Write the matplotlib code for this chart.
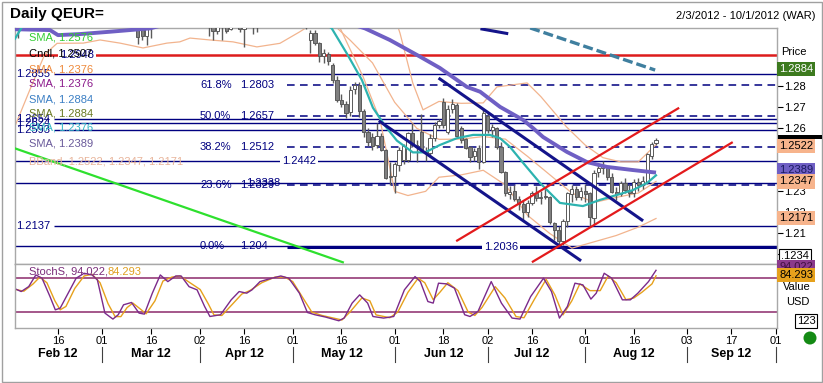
import matplotlib
matplotlib.use("Agg")
import matplotlib.pyplot as plt
import matplotlib.transforms as mtransforms
from matplotlib.patches import Rectangle, Circle
import pandas as pd

plt.rcParams['font.family'] = ['Liberation Sans', 'DejaVu Sans']

# ---------------- data ----------------
trade_dates = pd.bdate_range('2012-02-03', '2012-08-23')
axis_dates = pd.bdate_range('2012-02-03', '2012-10-01')

opens = [1.3135,1.3160,1.3110,1.3240,1.3270,1.3280,1.3200,1.3210,1.3140,1.3100,
         1.3120,1.3150,1.3230,1.3240,1.3230,1.3380,1.3450,1.3410,1.3450,1.3320,
         1.3190,1.3200,1.3200,1.3130,1.3130,1.3250,1.3120,1.3130,1.3080,1.3040,
         1.3090,1.3170,1.3230,1.3220,1.3250,1.3190,1.3270,1.3340,1.3370,1.3310,
         1.3310,1.3340,1.3320,1.3230,1.3090,1.3060,1.3095,1.3100,1.3070,1.3130,
         1.3160,1.3070,1.3090,1.3150,1.3110,1.3140,1.3210,1.3150,1.3170,1.3240,
         1.3230,1.3240,1.3240,1.3230,1.3160,1.3150,1.3020,1.3050,1.3005,1.2942,
         1.2950,1.2900,1.2830,1.2735,1.2715,1.2675,1.2785,1.2805,1.2680,1.2580,
         1.2560,1.2520,1.2565,1.2495,1.2370,1.2375,1.2425,1.2450,1.2450,1.2575,
         1.2520,1.2580,1.2490,1.2480,1.2555,1.2615,1.2725,1.2580,1.2690,1.2710,
         1.2600,1.2550,1.2510,1.2470,1.2505,1.2440,1.2660,1.2590,1.2600,1.2510,
         1.2390,1.2285,1.2300,1.2265,1.2240,1.2200,1.2245,1.2290,1.2270,1.2280,
         1.2275,1.2150,1.2115,1.2065,1.2160,1.2285,1.2310,1.2275,1.2300,1.2290,
         1.2175,1.2390,1.2410,1.2410,1.2370,1.2295,1.2285,1.2340,1.2305,1.2290,
         1.2345,1.2330,1.2345,1.2470,1.2528]
highs = [1.3235,1.3170,1.3250,1.3295,1.3320,1.3290,1.3260,1.3230,1.3200,1.3150,
         1.3200,1.3290,1.3290,1.3260,1.3390,1.3460,1.3460,1.3480,1.3490,1.3350,
         1.3260,1.3250,1.3210,1.3170,1.3280,1.3290,1.3170,1.3160,1.3100,1.3120,
         1.3180,1.3250,1.3250,1.3290,1.3260,1.3290,1.3360,1.3390,1.3380,1.3340,
         1.3380,1.3380,1.3360,1.3245,1.3120,1.3110,1.3110,1.3140,1.3150,1.3190,
         1.3180,1.3110,1.3170,1.3160,1.3170,1.3220,1.3220,1.3200,1.3260,1.3280,
         1.3260,1.3280,1.3280,1.3240,1.3210,1.3180,1.3065,1.3068,1.3010,1.2975,
         1.2960,1.2910,1.2850,1.2760,1.2730,1.2800,1.2820,1.2818,1.2690,1.2600,
         1.2575,1.2625,1.2575,1.2500,1.2440,1.2440,1.2510,1.2525,1.2580,1.2625,
         1.2545,1.2665,1.2510,1.2570,1.2630,1.2645,1.2745,1.2710,1.2740,1.2720,
         1.2610,1.2555,1.2515,1.2505,1.2520,1.2692,1.2670,1.2620,1.2605,1.2535,
         1.2395,1.2325,1.2330,1.2280,1.2260,1.2260,1.2300,1.2325,1.2300,1.2320,
         1.2280,1.2155,1.2135,1.2170,1.2295,1.2330,1.2325,1.2320,1.2335,1.2295,
         1.2400,1.2425,1.2445,1.2420,1.2385,1.2320,1.2350,1.2365,1.2335,1.2360,
         1.2365,1.2375,1.2480,1.2535,1.2555]
lows = [1.3030,1.3090,1.3100,1.3200,1.3220,1.3180,1.3180,1.3110,1.3090,1.3085,
        1.3110,1.3140,1.3190,1.3180,1.3220,1.3370,1.3340,1.3370,1.3310,1.3180,
        1.3180,1.3170,1.3110,1.3100,1.3120,1.3100,1.3090,1.3000,1.3020,1.2995,
        1.3030,1.3120,1.3150,1.3190,1.3140,1.3180,1.3260,1.3320,1.3290,1.3260,
        1.3290,1.3290,1.3220,1.3040,1.3020,1.3045,1.3020,1.3050,1.3065,1.3100,
        1.3055,1.2985,1.3080,1.3045,1.3058,1.3130,1.3110,1.3140,1.3150,1.3200,
        1.3140,1.3220,1.3200,1.3150,1.3110,1.3072,1.2957,1.2995,1.2912,1.2910,
        1.2900,1.2815,1.2725,1.2700,1.2650,1.2660,1.2760,1.2655,1.2560,1.2515,
        1.2495,1.2505,1.2490,1.2360,1.2330,1.2290,1.2395,1.2430,1.2440,1.2510,
        1.2440,1.2485,1.2445,1.2470,1.2540,1.2600,1.2600,1.2570,1.2670,1.2560,
        1.2530,1.2500,1.2440,1.2445,1.2405,1.2435,1.2575,1.2560,1.2500,1.2385,
        1.2280,1.2265,1.2255,1.2210,1.2165,1.2180,1.2235,1.2255,1.2240,1.2265,
        1.2145,1.2070,1.2042,1.2045,1.2130,1.2250,1.2260,1.2260,1.2250,1.2135,
        1.2145,1.2370,1.2380,1.2355,1.2290,1.2260,1.2280,1.2290,1.2275,1.2275,
        1.2300,1.2310,1.2335,1.2455,1.2522]
closes = [1.3160,1.3110,1.3240,1.3270,1.3280,1.3200,1.3210,1.3140,1.3100,1.3120,
          1.3150,1.3230,1.3240,1.3230,1.3380,1.3450,1.3410,1.3450,1.3320,1.3190,
          1.3200,1.3200,1.3130,1.3130,1.3250,1.3120,1.3140,1.3035,1.3040,1.3090,
          1.3170,1.3230,1.3220,1.3250,1.3190,1.3270,1.3340,1.3370,1.3310,1.3310,
          1.3340,1.3320,1.3240,1.3090,1.3060,1.3095,1.3080,1.3062,1.3130,1.3160,
          1.3070,1.3090,1.3150,1.3110,1.3140,1.3210,1.3150,1.3170,1.3240,1.3230,
          1.3240,1.3240,1.3230,1.3160,1.3150,1.3085,1.3050,1.3005,1.2942,1.2955,
          1.2920,1.2830,1.2735,1.2715,1.2670,1.2780,1.2805,1.2680,1.2580,1.2535,
          1.2515,1.2565,1.2495,1.2365,1.2375,1.2430,1.2495,1.2515,1.2575,1.2520,
          1.2510,1.2490,1.2480,1.2555,1.2615,1.2635,1.2615,1.2690,1.2715,1.2565,
          1.2545,1.2505,1.2465,1.2490,1.2440,1.2670,1.2590,1.2605,1.2510,1.2390,
          1.2290,1.2295,1.2265,1.2240,1.2200,1.2245,1.2290,1.2270,1.2275,1.2275,
          1.2155,1.2115,1.2065,1.2160,1.2290,1.2310,1.2275,1.2300,1.2285,1.2180,
          1.2385,1.2410,1.2420,1.2370,1.2295,1.2285,1.2340,1.2305,1.2290,1.2345,
          1.2330,1.2350,1.2475,1.2525,1.2545]

# indicator readings: (trading-day index, value)
sma_slow_idx = [-0.7, 7.2, 9, 14, 20.7, 29.8, 40, 55, 70, 78.3, 83.9, 90.7, 95.2, 101.3,
                104.3, 108.8, 114, 116.2, 118.5, 123.9, 128.4, 132.9, 138.8, 144]
sma_slow_val = [1.3070, 1.3066, 1.3042, 1.3047, 1.3058, 1.3074, 1.3130, 1.3170, 1.3130,
                1.3074, 1.3019, 1.2940, 1.2886, 1.2796, 1.2773, 1.2701, 1.2639, 1.2601,
                1.2558, 1.2487, 1.2439, 1.2416, 1.2401, 1.2389]
sma_fast_idx = [-0.7, 1.0, 5, 15, 30, 45, 60, 66, 70.8, 74.2, 77.6, 80.1, 82.8, 85.5, 89.1,
                91.9, 95.2, 99, 102.7, 106.5, 108.8, 111, 114, 117.8, 122.3, 127.5, 131.3,
                135.2, 138.8, 142, 144]
sma_fast_val = [1.3025, 1.3085, 1.3180, 1.3230, 1.3200, 1.3170, 1.3190, 1.3150, 1.3074,
                1.2955, 1.2829, 1.2697, 1.2612, 1.2541, 1.2485, 1.2485, 1.2520, 1.2552,
                1.2568, 1.2568, 1.2552, 1.2512, 1.2435, 1.2340, 1.2245, 1.2230, 1.2259,
                1.2283, 1.2306, 1.2340, 1.2376]
bb_up_idx = [-0.7, 20, 40, 60, 75, 80, 83, 86.2, 89.1, 91.4, 95, 100, 105, 108.1, 114.9,
             118, 123.8, 128, 132, 136, 140, 144]
bb_up_val = [1.3350, 1.3500, 1.3450, 1.3350, 1.3380, 1.3350, 1.3250, 1.3052, 1.2814,
             1.2687, 1.2727, 1.2718, 1.2720, 1.2796, 1.2815, 1.2750, 1.2606, 1.2520,
             1.2460, 1.2440, 1.2440, 1.2522]
bb_mid_idx = [-0.7, 20, 40, 60, 70, 75, 80, 85, 90, 95, 100, 105, 110, 115, 120, 125, 130,
              135, 140, 144]
bb_mid_val = [1.3100, 1.3200, 1.3250, 1.3200, 1.3115, 1.3017, 1.2910, 1.2723, 1.2599,
              1.2547, 1.2548, 1.2560, 1.2548, 1.2466, 1.2379, 1.2292, 1.2247, 1.2271,
              1.2292, 1.2347]
bb_low_idx = [-0.7, 3, 6, 8.8, 14.7, 18.5, 23, 28.2, 33.6, 36.5, 38.8, 43.3, 48.5, 53.9,
              59.1, 63.6, 66, 72.7, 77.9, 81.7, 85, 88, 92, 95, 100, 105, 110, 115, 120,
              125, 130, 135, 140, 144]
bb_low_val = [1.2610, 1.2800, 1.2950, 1.3003, 1.3004, 1.3019, 1.3004, 1.2981, 1.3004,
              1.3010, 1.3028, 1.3019, 1.3010, 1.2986, 1.3003, 1.3058, 1.3090, 1.3075,
              1.2843, 1.2639, 1.2300, 1.2280, 1.2300, 1.2367, 1.2378, 1.2400, 1.2330,
              1.2186, 1.2100, 1.2030, 1.2060, 1.2090, 1.2130, 1.2171]

stoch_k_idx = [-0.5, 0.7, 2.4, 4, 5.4, 7.2, 8.4, 9.5, 11.3, 13.1, 14.9, 16.7, 17.9, 19.6,
               21.4, 22.6, 23.8, 25.6, 27.3, 28.5, 30.3, 32.1, 33.8, 35.6, 36.8, 38.6,
               40.4, 42.1, 43.3, 45.7, 48.1, 49.9, 51.6, 52.8, 54.6, 56.4, 59.3, 61.1,
               63.5, 65.3, 67, 69.4, 72.4, 73.6, 75.4, 77.1, 78.9, 80.1, 82.5, 84.8, 87.2,
               89.6, 90.8, 92.5, 93.7, 94.9, 96.7, 98.5, 100.8, 102, 103.8, 106.8, 109.1,
               111.5, 113.3, 115.7, 118.6, 120.4, 122.2, 124, 125.7, 127.5, 129.3, 130.5,
               132.3, 134, 136.4, 138.2, 139.9, 142.3, 144]
stoch_k_val = [60.6, 56.4, 65.2, 85.8, 80, 47.5, 24, 27, 53.5, 80, 88.8, 85.8, 77, 18.2,
               7.6, 15.3, 32.9, 37, 18.2, 16.4, 53.5, 85.8, 74, 84, 84, 65, 59.4, 30, 12.2,
               15.3, 41.7, 56.4, 53.5, 59.4, 74, 78.2, 84, 80, 53.5, 19.3, 15.3, 11.2, 4.6,
               9.4, 35.9, 50.5, 35.9, 12.2, 9.4, 12.2, 59.4, 82.9, 74, 38.7, 35.9, 71.2, 70,
               62.4, 15.3, 12.2, 21, 74, 35.9, 9.4, 7.6, 47.5, 80, 56.4, 9.4, 30, 71.2,
               68.2, 43, 53.5, 88.8, 80, 41.7, 41.7, 53.5, 74, 94.022]
stoch_d_idx = [-0.5, 1.3, 3.4, 4.9, 6.5, 8.3, 9.5, 10.8, 12.8, 14.9, 16.7, 18.5, 20.3,
               21.9, 23.2, 24.6, 25.9, 27.5, 28.9, 30.9, 32.7, 34.7, 36.5, 38.8, 41.1,
               42.9, 44.2, 46, 48.5, 50.5, 52.3, 55, 58, 60.2, 62, 64.3, 66.3, 68.6, 73.1,
               74.9, 77.6, 79.4, 80.8, 83.9, 85.7, 88, 90.3, 91.8, 93.7, 95.2, 97, 99.3,
               101.6, 103.1, 104.7, 107.7, 109.9, 112.4, 114.2, 116.5, 119.2, 121.2, 123,
               125, 126.8, 129.1, 131.4, 133.2, 135, 137.2, 139, 140.8, 143.1, 144]
stoch_d_val = [60, 57, 70, 82, 72, 40, 24, 30, 62, 84, 87, 72, 35, 12, 12, 28, 36, 26, 17,
               40, 75, 82, 84, 72, 60, 35, 15, 14, 35, 52, 58, 72, 82, 82, 74, 45, 20, 14,
               6, 20, 45, 40, 15, 10, 20, 55, 80, 72, 42, 55, 72, 58, 20, 14, 28, 65, 45,
               12, 10, 42, 78, 50, 15, 40, 70, 58, 58, 84, 72, 42, 45, 55, 70, 84.293]

# drawn trend lines: (index, price) endpoints
green_line = ([-0.7, 73.3], [1.2504, 1.1963])
channel_low = ([81.7, 126.8], [1.2631, 1.1974])
channel_high = ([95.2, 140.8], [1.2834, 1.2164])
channel_top = ([104.7, 110.3], [1.3071, 1.3050])
dash_trend = ([115.6, 143.8], [1.3076, 1.2876])
red_upper = ([99.1, 149.0], [1.2066, 1.2694])
red_lower = ([116.2, 161.1], [1.1966, 1.2531])

red_level = 1.2948
left_levels = [1.2855, 1.2645, 1.2624, 1.2593, 1.2137]
left_level_labels = ['1.2855', '1.2654', '1.2624', '1.2593', '1.2137']
full_levels = [1.2442, 1.2338, 1.2040]
fib_pcts = ['61.8%', '50.0%', '38.2%', '23.6%', '0.0%']
fib_vals = [1.2803, 1.2657, 1.2512, 1.2329, 1.2040]
fib_texts = ['1.2803', '1.2657', '1.2512', '1.2329', '1.204']
support_level = 1.2036

day_ticks = ['2012-02-16', '2012-03-01', '2012-03-16', '2012-04-02', '2012-04-16',
             '2012-05-01', '2012-05-16', '2012-06-01', '2012-06-18', '2012-07-02',
             '2012-07-16', '2012-08-01', '2012-08-16', '2012-09-03', '2012-09-17',
             '2012-10-01']
day_labels = ['16', '01', '16', '02', '16', '01', '16', '01', '18', '02', '16', '01',
              '16', '03', '17', '01']
month_names = ['Feb 12', 'Mar 12', 'Apr 12', 'May 12', 'Jun 12', 'Jul 12', 'Aug 12', 'Sep 12']
month_centers = ['2012-02-16', '2012-03-16', '2012-04-16', '2012-05-16', '2012-06-18',
                 '2012-07-16', '2012-08-16', '2012-09-17']
month_starts = ['2012-03-01', '2012-04-02', '2012-05-01', '2012-06-01', '2012-07-02',
                '2012-08-01', '2012-09-03', '2012-10-01']

# ---------------- layout ----------------
W, H = 823, 383
fig = plt.figure(figsize=(W / 100, H / 100), dpi=100)
fig.patch.set_facecolor('white')


def fx(x):
    return x / W


def fy(y):
    return 1 - y / H


def px2i(x):
    return (x - 18.1) / 4.43


pos = {d: i for i, d in enumerate(axis_dates)}
xi = list(range(len(trade_dates)))

ax = fig.add_axes([fx(15), fy(264), (777 - 15) / W, (264 - 28) / H])
axs = fig.add_axes([fx(15), fy(328), (777 - 15) / W, (328 - 264) / H])
for a in (ax, axs):
    a.set_xlim(px2i(15), px2i(777))
    for s in a.spines.values():
        s.set_color('#a8a8a8')
        s.set_linewidth(1)
ax.set_ylim(1.19548, 1.30758)
axs.set_ylim(-8.2, 105.2)

NAVY = '#000080'
x0, x1 = px2i(15), px2i(777)
xfib = px2i(287)

# horizontal levels
ax.hlines(left_levels, px2i(54), x1, colors=NAVY, lw=1, zorder=1)
ax.hlines(full_levels, x0, x1, colors=NAVY, lw=1, zorder=1)
ax.hlines(support_level, xfib, x1, colors=NAVY, lw=2.2, zorder=1)
ax.hlines(fib_vals[:4], xfib, x1, colors=NAVY, lw=1.1, linestyles=(0, (5, 3.5)), zorder=1)
ax.hlines(red_level, x0, x1, colors='#dd1c1c', lw=1.8, zorder=1)

# bollinger bands
for bx, by in ((bb_up_idx, bb_up_val), (bb_mid_idx, bb_mid_val), (bb_low_idx, bb_low_val)):
    ax.plot(bx, by, color='#f2b48e', lw=0.9, zorder=2)

# candles
for i, o, h, l, c in zip(xi, opens, highs, lows, closes):
    ax.vlines(i, l, h, color='#5a5a5a', lw=1, zorder=3)
    up = c >= o
    ax.bar(i, max(abs(c - o), 0.0002), bottom=min(o, c), width=0.72,
           color='white' if up else '#808080', edgecolor='#5a5a5a', lw=0.7, zorder=3.5)

# moving averages
ax.plot(sma_slow_idx, sma_slow_val, color='#6f5fc4', lw=2.8, zorder=4, solid_capstyle='butt')
ax.plot(sma_fast_idx, sma_fast_val, color='#2db3b0', lw=1.6, zorder=4.2)

# trend lines
ax.plot(*green_line, color='#2ee02e', lw=1.6, zorder=5)
for ln in (channel_low, channel_high, channel_top):
    ax.plot(*ln, color='#14148a', lw=2.2, zorder=5)
ax.plot(*dash_trend, color='#3f7f9f', lw=2.4, ls=(0, (3, 1.2)), zorder=5)
ax.plot(*red_upper, color='#e31a1c', lw=1.6, zorder=5)
ax.plot(*red_lower, color='#e31a1c', lw=1.6, zorder=5)

# level labels
fs = 8
for v, t in zip(left_levels, left_level_labels):
    ax.text(px2i(16), v, t, color=NAVY, fontsize=fs, va='center', ha='left', zorder=6)
for p, v, t in zip(fib_pcts, fib_vals, fib_texts):
    ax.text(px2i(200), v, p, color=NAVY, fontsize=fs, va='center', ha='left', zorder=6)
    ax.text(px2i(240), v, t, color=NAVY, fontsize=fs, va='center', ha='left', zorder=6)
ax.text(px2i(246), 1.2338, '1.2338', color=NAVY, fontsize=fs, va='center', ha='left', zorder=6)
ax.text(px2i(282), 1.2442, '1.2442', color=NAVY, fontsize=fs, va='center', ha='left', zorder=6,
        bbox=dict(fc='white', ec='none', pad=1.5))
ax.text(px2i(484), support_level, '1.2036', color=NAVY, fontsize=fs, va='center', ha='left',
        zorder=6, bbox=dict(fc='white', ec='none', pad=1.5))
ax.text(px2i(60), red_level, '1.2948', color=NAVY, fontsize=fs, va='center', ha='left',
        zorder=6, bbox=dict(fc='white', ec='none', pad=1.5))

# legend style labels
legend_rows = [(38, 'SMA, 1.2576', '#33cc33'), (53, 'Cndl, 1.2507', 'black'),
               (69, 'SMA, 1.2376', '#ee8a3c'), (84, 'SMA, 1.2376', '#8b1a8b'),
               (99, 'SMA, 1.2884', '#3b7fc4'), (114, 'SMA, 1.2884', '#6b7b23'),
               (128, 'SMA, 1.2376', '#33b5c5'), (144, 'SMA, 1.2389', '#6a5a9a'),
               (161, 'BBand, 1.2522, 1.2347, 1.2171', '#e8b49a')]
for y, t, c in legend_rows:
    fig.text(fx(29), fy(y), t, color=c, fontsize=fs, va='center', ha='left', zorder=7)
fig.text(fx(29), fy(272), 'StochS, 94.022, ', color='#7b2d7b', fontsize=fs, va='center')
fig.text(fx(29 + 79), fy(272), '84.293', color='#e0a020', fontsize=fs, va='center')

# price axis on the right
ax.yaxis.tick_right()
ax.set_yticks([1.20, 1.21, 1.22, 1.23, 1.24, 1.25, 1.26, 1.27, 1.28])
ax.set_yticklabels(['1.20', '1.21', '1.22', '1.23', '1.24', '1.25', '1.26', '1.27', '1.28'])
ax.tick_params(axis='y', length=4, pad=1, labelsize=fs, color='black')
ax.tick_params(axis='x', length=0, labelbottom=False)
axs.set_yticks([])

# date axis
axs.set_xticks([pos[pd.Timestamp(d)] for d in day_ticks])
axs.set_xticklabels(day_labels)
axs.tick_params(axis='x', length=4, pad=2, labelsize=fs, color='black')
blend = mtransforms.blended_transform_factory(axs.transData, axs.transAxes)
for name, d in zip(month_names, month_centers):
    axs.text(pos[pd.Timestamp(d)], -0.41, name, transform=blend, ha='center', va='center',
             fontsize=9, fontweight='bold', clip_on=False)
for d in month_starts:
    xs = pos[pd.Timestamp(d)]
    axs.plot([xs, xs], [-0.29, -0.53], transform=blend, color='#404040', lw=0.8, clip_on=False)

# stochastic panel
axs.axhline(80, color='#8b2a6b', lw=1.1)
axs.axhline(20, color='#8b2a6b', lw=1.1)
axs.plot(stoch_d_idx, stoch_d_val, color='#e6a11c', lw=1.0)
axs.plot(stoch_k_idx, stoch_k_val, color='#7b2a8b', lw=1.0)

# right side boxes
def box(y, t, fc, tc='black', x=779):
    fig.text(fx(x), fy(y), t, fontsize=fs, va='center', ha='left', color=tc, zorder=10,
             bbox=dict(fc=fc, ec='none', pad=1.6))

fig.text(fx(781), fy(52), 'Price', fontsize=fs, va='center', ha='left')
box(69, '1.2884', '#3c7a1e', 'white')
fig.add_artist(Rectangle((fx(778), fy(138.5)), 44 / W, 3 / H, transform=fig.transFigure,
                         fc='black', ec='none', zorder=9))
box(146, '1.2522', '#f7b48c')
box(170, '1.2389', '#6f5fc4', '#1a1a60')
box(181.5, '1.2347', '#f7b48c')
box(218, '1.2171', '#f7b48c')
fig.text(fx(781), fy(256), '.1234', fontsize=fs, va='center', ha='left', zorder=10,
         bbox=dict(fc='white', ec='black', lw=0.8, pad=1.2))
box(267, '94.022', '#8b3a8b', '#401040')
box(275, '84.293', '#e6a11c')
fig.text(fx(783), fy(287), 'Value', fontsize=fs, va='center', ha='left')
fig.text(fx(786), fy(302), 'USD', fontsize=fs, va='center', ha='left')
fig.text(fx(797), fy(321), '123', fontsize=fs, va='center', ha='left',
         bbox=dict(fc='white', ec='black', lw=0.8, pad=1.2))
fig.add_artist(Circle((810, H - 338), 6.5, transform=mtransforms.IdentityTransform(),
                      fc='#148a14', ec='none'))

# titles
fig.text(fx(10), fy(14), 'Daily QEUR=', fontsize=11, fontweight='bold', va='center', ha='left')
fig.text(fx(816), fy(16), '2/3/2012 - 10/1/2012 (WAR)', fontsize=8, va='center', ha='right')

# outer frame
fig.add_artist(Rectangle((fx(1.5), fy(381.5)), (W - 3) / W, (H - 3) / H,
                         transform=fig.transFigure, fill=False, ec='#a0a0a0', lw=1))

fig.savefig('out.png', dpi=100)
